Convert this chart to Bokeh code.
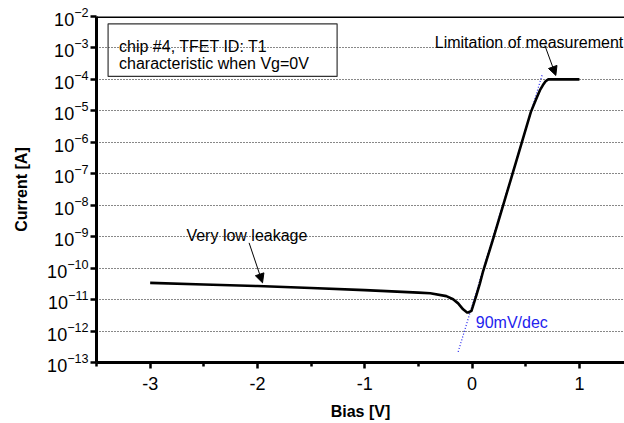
import math
from bokeh.plotting import figure
from bokeh.models import (FixedTicker, CustomJSTickFormatter, LogTickFormatter, Span, Label,
                          BoxAnnotation, Arrow, NormalHead, Range1d)
from bokeh.embed import file_html
from bokeh.resources import INLINE

# ---- data ----
bias = [-3.0, -2.5, -2.0, -1.5, -1.0, -0.5, -0.39, -0.24, -0.177, -0.13, -0.084,
        -0.047, -0.037, -0.006, 0.016, 0.041, 0.072, 0.10, 0.196, 0.28, 0.373,
        0.46, 0.547, 0.60, 0.631, 0.66, 0.685, 0.71, 0.80, 0.90, 1.0]
log_current = [-10.47, -10.52, -10.57, -10.63, -10.70, -10.78, -10.80, -10.89, -10.99,
               -11.12, -11.31, -11.41, -11.41, -11.36, -11.12, -10.85, -10.49, -10.13,
               -9.07, -8.11, -7.04, -6.04, -5.04, -4.60, -4.35, -4.18, -4.06, -4.0,
               -4.0, -4.0, -4.0]
current = [10 ** v for v in log_current]

fit_bias = [-0.13, 0.656]          # 90 mV/dec guide line
fit_current = [10 ** -12.66, 10 ** -3.82]

x_ticks = [-3, -2, -1, 0, 1]
x_minor = [-3.5, -2.5, -1.5, -0.5, 0.5, 1.5]
y_exponents = list(range(-13, -1))
y_ticks = [10.0 ** e for e in y_exponents]

FONT = "Liberation Sans"
X0, X1 = -3.5, 1.42
Y0, Y1 = 1e-13, 1e-2
FRAME_L, FRAME_T, FRAME_B = 96, 16, 362

p = figure(width=624, height=423, output_backend="svg", toolbar_location=None,
           y_axis_type="log", x_range=Range1d(X0, X1), y_range=Range1d(Y0, Y1),
           min_border_left=FRAME_L, min_border_right=0, min_border_top=FRAME_T,
           min_border_bottom=423 - FRAME_B)
p.outline_line_color = None
p.background_fill_color = "white"
p.border_fill_color = "white"

# grid
p.xgrid.grid_line_color = None
p.ygrid.grid_line_color = "#111111"
p.ygrid.grid_line_dash = "1 2"
p.ygrid.grid_line_width = 1

# x axis
xa = p.xaxis[0]
xa.ticker = FixedTicker(ticks=x_ticks, minor_ticks=x_minor)
xa.formatter = CustomJSTickFormatter(code="return tick.toString();")
xa.axis_line_width = 3
xa.major_tick_line_width = 2.5
xa.major_tick_out = 6
xa.major_tick_in = 0
xa.minor_tick_line_width = 2.5
xa.minor_tick_out = 4
xa.minor_tick_in = 0
xa.major_label_text_font = FONT
xa.major_label_text_font_size = "18px"
xa.major_label_text_color = "black"
xa.major_label_standoff = 8
xa.axis_label = "Bias [V]"
xa.axis_label_text_font = FONT
xa.axis_label_text_font_size = "16px"
xa.axis_label_text_font_style = "bold"
xa.axis_label_text_color = "black"
xa.axis_label_standoff = 10

# y axis
ya = p.yaxis[0]
ya.ticker = FixedTicker(ticks=y_ticks, minor_ticks=[])
ya.formatter = LogTickFormatter()
ya.axis_line_width = 3
ya.major_tick_line_width = 2.5
ya.major_tick_out = 6
ya.major_tick_in = 0
ya.minor_tick_line_color = None
ya.major_label_text_font = FONT
ya.major_label_text_font_size = "18px"
ya.major_label_text_color = "black"
ya.major_label_standoff = 2
ya.axis_label = "Current [A]"
ya.axis_label_text_font = FONT
ya.axis_label_text_font_size = "16px"
ya.axis_label_text_font_style = "bold"
ya.axis_label_text_color = "black"
ya.axis_label_standoff = 14

# top frame line
p.add_layout(Span(location=Y1, dimension="width", line_color="black", line_width=3))

# data
p.line(fit_bias, fit_current, line_color="#2222ee", line_width=1.2, line_dash="1 2")
p.line(bias, current, line_color="black", line_width=2.6, line_join="round")

# info box
p.add_layout(BoxAnnotation(left=-3.392, right=-1.258, top=10 ** -2.232, bottom=10 ** -3.905,
                           fill_color=None, fill_alpha=0, line_color="#333333",
                           line_alpha=1, line_width=1.2))
for txt, ly in [("chip #4, TFET ID: T1", -2.952), ("characteristic when Vg=0V", -3.508)]:
    p.add_layout(Label(x=-3.290, y=10 ** ly, text=txt, text_font=FONT, text_font_size="16px",
                       text_baseline="alphabetic", text_color="black"))

# annotations
p.add_layout(Label(x=-2.662, y=10 ** -8.952, text="Very low leakage", text_font=FONT,
                   text_font_size="16px", text_baseline="alphabetic", text_color="black"))
p.add_layout(Arrow(end=NormalHead(size=9, fill_color="black", line_color="black"),
                   x_start=-2.078, y_start=10 ** -9.197, x_end=-1.953, y_end=10 ** -10.467,
                   line_width=1, line_color="black"))
p.add_layout(Label(x=-0.348, y=10 ** -2.816, text="Limitation of measurement", text_font=FONT,
                   text_font_size="16px", text_baseline="alphabetic", text_color="black"))
p.add_layout(Arrow(end=NormalHead(size=9, fill_color="black", line_color="black"),
                   x_start=0.678, y_start=10 ** -2.92, x_end=0.780, y_end=10 ** -3.873,
                   line_width=1, line_color="black"))
p.add_layout(Label(x=0.0345, y=10 ** -11.714, text="90mV/dec", text_font=FONT,
                   text_font_size="16px", text_baseline="alphabetic", text_color="#2222ee"))

open("out.html", "w").write(file_html(p, INLINE))
